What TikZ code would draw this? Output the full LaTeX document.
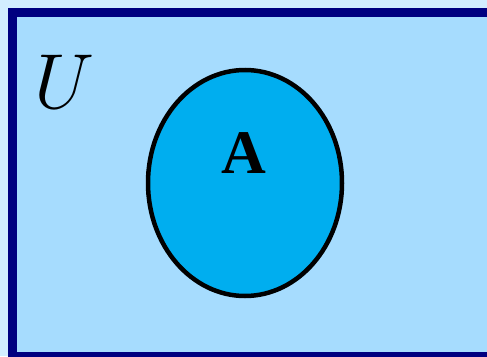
\RequirePackage{fix-cm}
\documentclass[tikz,border=0pt]{standalone}
\usepackage{fontspec}
\setmainfont{Liberation Serif}
\usetikzlibrary{shapes.geometric}
\definecolor{outerbg}{HTML}{D2EEFF}
\definecolor{innerbg}{HTML}{A6DCFE}
\definecolor{framecol}{HTML}{000080}
\definecolor{setfill}{HTML}{00AEEF}
\begin{document}
\begin{tikzpicture}[x=1pt,y=-1pt,
  frame/.style={draw=framecol,line width=8.5pt,fill=innerbg},
  setA/.style={draw=black,line width=4.5pt,fill=setfill,ellipse,minimum width=194pt,minimum height=226pt,inner sep=0pt},
  lbl/.style={inner sep=0pt}]
\useasboundingbox (0,0) rectangle (487,356);
\clip (0,0) rectangle (487,356);
\fill[outerbg] (0,0) rectangle (487,356);
\draw[frame] (12.5,12.5) rectangle (500,356);
\node[setA] (A) at (245,183) {};
\node[lbl,anchor=base] (Alab) at (244,173) {\fontsize{62}{62}\selectfont\bfseries A};
\node[lbl,anchor=base west] (U) at (34,108) {\fontsize{78}{78}\selectfont $U$};
\end{tikzpicture}
\end{document}
